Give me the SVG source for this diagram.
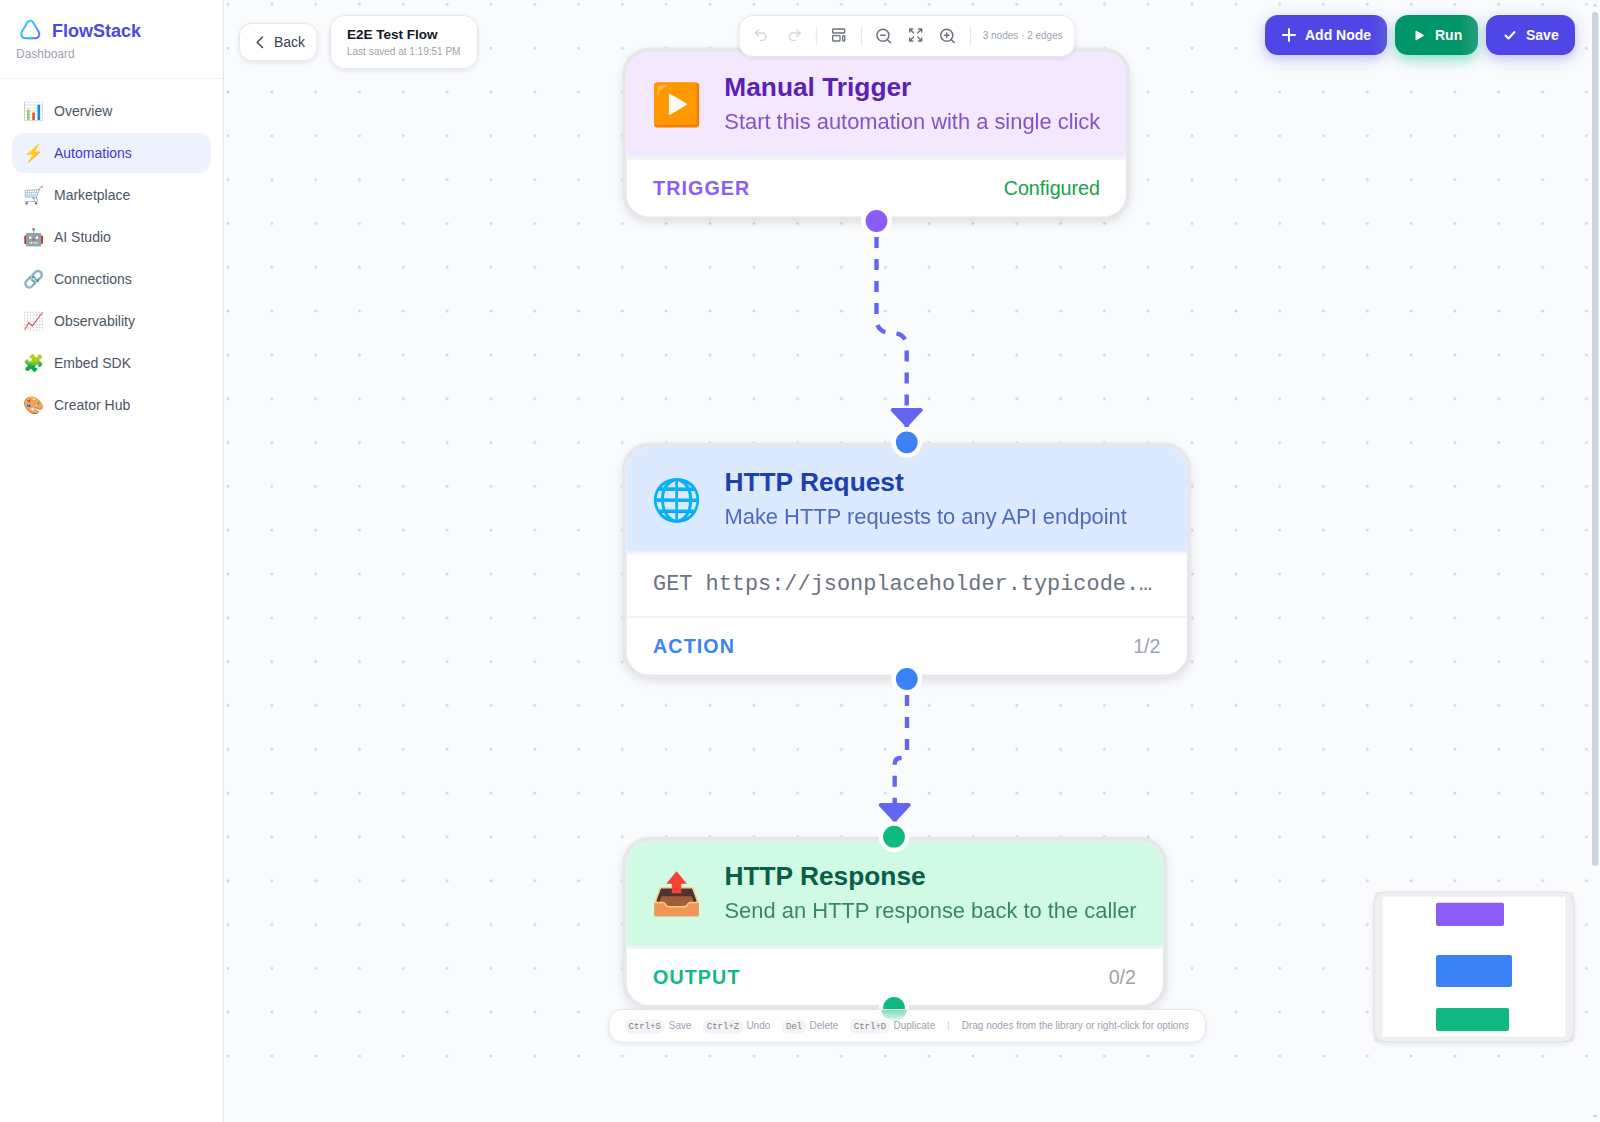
<svg xmlns="http://www.w3.org/2000/svg" width="1600" height="1122" viewBox="0 0 1600 1122">
<style>
text{font-family:"Liberation Sans",Arial,sans-serif}
.emoji{font-family:"Noto Color Emoji","Liberation Sans",sans-serif;text-anchor:middle}
.nav{font-size:14px;fill:#4b5563}
.navi{font-size:17px}
.nodei{font-size:41px}
.box{fill:#fff;stroke:#e5e7eb;stroke-width:4.38;filter:url(#nodeShadow)}
.ttl{font-size:26.3px;font-weight:700}
.sub{font-size:21.9px;opacity:.75}
.tag{font-size:19.7px;font-weight:700;letter-spacing:1.1px}
.cnt{font-size:19.7px;fill:#9ca3af;text-anchor:end}
.div{fill:#f3f4f6}
.hnd{stroke:#fff;stroke-width:4.38}
.edge{fill:none;stroke:#6366f1;stroke-width:4.38;stroke-dasharray:11 11;marker-end:url(#arrow)}
.chip{fill:#fff;stroke:#e5e7eb;stroke-width:1;filter:url(#chipShadow)}
.ico{fill:none;stroke:#6b7280;stroke-width:2;stroke-linecap:round;stroke-linejoin:round}
.ico.off{stroke:#d1d5db}
.sep{stroke:#e5e7eb;stroke-width:1}
.btn{font-size:14px;font-weight:700;fill:#fff}
.bi{fill:none;stroke:#fff;stroke-width:2;stroke-linecap:round;stroke-linejoin:round}
.hint{font-size:10px;fill:#9ca3af}
.kbd{fill:#f3f4f6}
.kt{font-family:"Liberation Mono",monospace;font-size:9px;fill:#7b8290;text-anchor:middle}
</style>
<defs>
<pattern id="dots" patternUnits="userSpaceOnUse" x="206.09" y="-17.61" width="43.82" height="43.82"><circle cx="21.91" cy="21.91" r="1.5" fill="#d3d6dc"/></pattern>
<marker id="arrow" markerUnits="userSpaceOnUse" markerWidth="40" markerHeight="44" refX="20" refY="22" orient="auto" overflow="visible"><path d="M3 8 L18 22 L3 36 Z" fill="#6366f1" stroke="#6366f1" stroke-width="4" stroke-linejoin="round"/></marker>
<filter id="nodeShadow" x="-10%" y="-15%" width="120%" height="135%"><feDropShadow dx="0" dy="3" stdDeviation="4" flood-color="#111827" flood-opacity=".09"/></filter>
<filter id="chipShadow" x="-15%" y="-30%" width="130%" height="170%"><feDropShadow dx="0" dy="1.5" stdDeviation="2" flood-color="#1f2a5a" flood-opacity=".1"/></filter>
<filter id="blueGlow" x="-30%" y="-60%" width="160%" height="240%"><feDropShadow dx="0" dy="4" stdDeviation="7" flood-color="#4f46e5" flood-opacity=".35"/></filter>
<filter id="greenGlow" x="-40%" y="-60%" width="180%" height="260%"><feDropShadow dx="0" dy="5" stdDeviation="7" flood-color="#10b981" flood-opacity=".45"/></filter>
<linearGradient id="gAdd"><stop offset=".88" stop-color="#4f46e5"/><stop offset="1" stop-color="#5c58db"/></linearGradient>
<linearGradient id="gRun"><stop offset=".8" stop-color="#059669"/><stop offset="1" stop-color="#2a9f7c"/></linearGradient>
<linearGradient id="gLogo" x1="0" y1="0" x2="1" y2="1"><stop offset="0" stop-color="#22d3ee"/><stop offset=".45" stop-color="#38bdf8"/><stop offset="1" stop-color="#6366f1"/></linearGradient>
<linearGradient id="gFade" gradientUnits="userSpaceOnUse" x1="0" y1="1010" x2="0" y2="1023"><stop offset="0" stop-color="#10b981" stop-opacity=".5"/><stop offset="1" stop-color="#10b981" stop-opacity="0"/></linearGradient>
<clipPath id="belowBar"><rect x="878" y="1010" width="32" height="14"/></clipPath>
</defs>

<rect id="canvas" x="224" width="1376" height="1122" fill="#fafbfd"/>
<rect x="224" width="1368" height="1060" fill="url(#dots)"/>

<g id="sidebar">
<rect width="223" height="1122" fill="#fff"/>
<rect x="223" width="1" height="1122" fill="#e5e7eb"/>
<rect y="78" width="223" height="1" fill="#eef0f2"/>
<path d="M30.3 20.7C32 20.7 33 21.7 34 23.7L38.5 31.5C40.5 35 38.5 38.3 35 38.3H25.5C22 38.3 20 35 22 31.5L26.5 23.7C27.5 21.7 28.5 20.7 30.3 20.7Z" fill="none" stroke="url(#gLogo)" stroke-width="2"/>
<circle cx="30.5" cy="38.3" r="1.4" fill="#22d3ee"/>
<text x="52" y="36.5" font-size="18" font-weight="700" fill="#4f46e5">FlowStack</text>
<text x="16" y="58" font-size="12" fill="#9ca3af">Dashboard</text>
<rect x="12" y="133" width="199" height="40" rx="12" fill="#eef2ff"/>
<text class="emoji navi" x="34.3" y="117">&#x1F4CA;</text><text class="nav" x="54" y="116">Overview</text>
<text class="emoji navi" x="34.3" y="159">&#x26A1;</text><text class="nav" x="54" y="158" style="fill:#4338ca">Automations</text>
<text class="emoji navi" x="34.3" y="201">&#x1F6D2;</text><text class="nav" x="54" y="200">Marketplace</text>
<text class="emoji navi" x="34.3" y="243">&#x1F916;</text><text class="nav" x="54" y="242">AI Studio</text>
<text class="emoji navi" x="34.3" y="285">&#x1F517;</text><text class="nav" x="54" y="284">Connections</text>
<text class="emoji navi" x="34.3" y="327">&#x1F4C8;</text><text class="nav" x="54" y="326">Observability</text>
<text class="emoji navi" x="34.3" y="369">&#x1F9E9;</text><text class="nav" x="54" y="368">Embed SDK</text>
<text class="emoji navi" x="34.3" y="411">&#x1F3A8;</text><text class="nav" x="54" y="410">Creator Hub</text>
</g>

<g id="connectors">
<path id="edge-1" class="edge" d="M876.5 215V318Q876.5 333 891.6 333Q906.7 333 906.7 348V427"/>
<path id="edge-2" class="edge" d="M907 673V752Q907 758 901 758Q894.7 758 894.7 764V822"/>
</g>

<g id="node-trigger">
<rect class="box" x="624.3" y="49.8" width="503.9" height="169" rx="25"/>
<path d="M626.5 156.7V75a23 23 0 0 1 23-23H1103a23 23 0 0 1 23 23V156.7Z" fill="#f3e8ff"/>
<rect class="div" x="626.5" y="156.7" width="499.5" height="3"/>
<text class="emoji nodei" x="677" y="119">&#x25B6;&#xFE0F;</text>
<text class="ttl" x="724.3" y="96" fill="#5b21b6">Manual Trigger</text>
<text class="sub" x="724.3" y="129.3" fill="#5b21b6">Start this automation with a single click</text>
<text class="tag" x="653" y="195" fill="#8b5cf6">TRIGGER</text>
<text class="cnt" x="1100" y="195" style="fill:#16a34a">Configured</text>
<circle class="hnd" cx="876.5" cy="221" r="13.1" fill="#8b5cf6"/>
</g>

<g id="node-http-request">
<rect class="box" x="624.3" y="444.8" width="565" height="232" rx="25"/>
<path d="M626.5 551.7V470a23 23 0 0 1 23-23H1164a23 23 0 0 1 23 23V551.7Z" fill="#dbeafe"/>
<rect class="div" x="626.5" y="551.7" width="560.5" height="3"/>
<rect class="div" x="626.5" y="615.7" width="560.5" height="2.4"/>
<text class="emoji nodei" x="677" y="514">&#x1F310;</text>
<text class="ttl" x="724.5" y="491" fill="#1e40af">HTTP Request</text>
<text class="sub" x="724.5" y="524" fill="#1e40af">Make HTTP requests to any API endpoint</text>
<text x="653" y="590" font-size="21.9" fill="#6b7280" style="font-family:'Liberation Mono',monospace">GET https://jsonplaceholder.typicode.…</text>
<text class="tag" x="653" y="653" fill="#3b82f6">ACTION</text>
<text class="cnt" x="1160.5" y="653">1/2</text>
<circle class="hnd" cx="906.8" cy="442.3" r="13.1" fill="#3b82f6"/>
<circle class="hnd" cx="906.8" cy="679" r="13.1" fill="#3b82f6"/>
</g>

<g id="node-http-response">
<rect class="box" x="624.3" y="839.3" width="541" height="168" rx="25"/>
<path d="M626.5 946V864.5a23 23 0 0 1 23-23H1140a23 23 0 0 1 23 23V946Z" fill="#d1fae5"/>
<rect class="div" x="626.5" y="946" width="536.5" height="3"/>
<text class="emoji nodei" x="677" y="908">&#x1F4E4;</text>
<text class="ttl" x="724.5" y="885" fill="#065f46">HTTP Response</text>
<text class="sub" x="724.5" y="918" fill="#065f46">Send an HTTP response back to the caller</text>
<text class="tag" x="653" y="984" fill="#10b981">OUTPUT</text>
<text class="cnt" x="1136" y="984">0/2</text>
<circle class="hnd" cx="894" cy="836.7" r="13.1" fill="#10b981"/>
<circle class="hnd" cx="894" cy="1008" r="13.1" fill="#10b981"/>
</g>

<g id="back-button">
<rect class="chip" x="239.5" y="23.5" width="77.5" height="37" rx="12"/>
<path d="M262.5 37l-5.3 5.3 5.3 5.3" fill="none" stroke="#374151" stroke-width="1.4" stroke-linecap="round" stroke-linejoin="round"/>
<text x="274" y="47" font-size="14" fill="#374151">Back</text>
</g>
<g id="title-card">
<rect class="chip" x="330.5" y="15.5" width="147" height="53" rx="14"/>
<text x="347" y="39" font-size="13.5" font-weight="700" fill="#111827">E2E Test Flow</text>
<text x="347" y="55" font-size="10" fill="#9ca3af">Last saved at 1:19:51 PM</text>
</g>
<g id="toolbar">
<rect class="chip" x="739" y="15.5" width="336" height="41" rx="14"/>
<g class="ico off" transform="translate(752.7 27) scale(.667)"><path d="M9 14 4 9l5-5"/><path d="M4 9h10.5a5.5 5.5 0 0 1 5.5 5.5 5.5 5.5 0 0 1-5.5 5.5H11"/></g>
<g class="ico off" transform="translate(786.7 27) scale(.667)"><path d="m15 14 5-5-5-5"/><path d="M20 9H9.5A5.5 5.5 0 0 0 4 14.5 5.5 5.5 0 0 0 9.5 20H13"/></g>
<line class="sep" x1="816.3" y1="26" x2="816.3" y2="46"/>
<g class="ico" transform="translate(830.7 27) scale(.667)"><rect x="3" y="3" width="18" height="6" rx="1"/><rect x="3" y="13" width="11" height="8" rx="1"/><rect x="18" y="13" width="3" height="8" rx="1"/></g>
<line class="sep" x1="861.5" y1="26" x2="861.5" y2="46"/>
<g class="ico" transform="translate(874.7 27) scale(.75)"><circle cx="11" cy="11" r="8"/><path d="m21 21-4.3-4.3"/><path d="M8 11h6"/></g>
<g class="ico" transform="translate(907.7 27) scale(.667)"><path d="m21 21-6-6m6 6v-4.8m0 4.8h-4.8"/><path d="M3 16.2V21m0 0h4.8M3 21l6-6"/><path d="M21 7.8V3m0 0h-4.8M21 3l-6 6"/><path d="M3 7.8V3m0 0h4.8M3 3l6 6"/></g>
<g class="ico" transform="translate(938.5 27) scale(.75)"><circle cx="11" cy="11" r="8"/><path d="m21 21-4.3-4.3"/><path d="M11 8v6M8 11h6"/></g>
<line class="sep" x1="970.5" y1="26" x2="970.5" y2="46"/>
<text x="982.7" y="39" font-size="10" fill="#9ca3af">3 nodes · 2 edges</text>
</g>

<g id="btn-add-node">
<rect x="1265" y="15" width="122" height="40" rx="13" fill="url(#gAdd)" filter="url(#blueGlow)"/>
<path class="bi" d="M1283 35h12M1289 29v12"/>
<text class="btn" x="1305" y="40">Add Node</text>
</g>
<g id="btn-run">
<rect x="1395" y="15" width="83" height="40" rx="13" fill="url(#gRun)" filter="url(#greenGlow)"/>
<path d="M1416 31l7.5 4.5-7.5 4.5Z" fill="#fff" stroke="#fff" stroke-width="1" stroke-linejoin="round"/>
<text class="btn" x="1435" y="40">Run</text>
</g>
<g id="btn-save">
<rect x="1486" y="15" width="89" height="40" rx="13" fill="#4f46e5" filter="url(#blueGlow)"/>
<path class="bi" d="M1505.5 35.5l3 3 6-6.5" stroke-width="1.4"/>
<text class="btn" x="1526" y="40">Save</text>
</g>

<g id="hint-bar">
<rect class="chip" x="609" y="1009.5" width="596.5" height="32.5" rx="13" style="fill-opacity:.94"/>
<circle cx="894" cy="1008" r="13" fill="url(#gFade)" clip-path="url(#belowBar)"/>
<rect class="kbd" x="625" y="1019.5" width="39.5" height="14" rx="6"/><text class="kt" x="644.7" y="1029">Ctrl+S</text><text class="hint" x="668.8" y="1029">Save</text>
<rect class="kbd" x="703" y="1019.5" width="40" height="14" rx="6"/><text class="kt" x="723" y="1029">Ctrl+Z</text><text class="hint" x="746.4" y="1029">Undo</text>
<rect class="kbd" x="782" y="1019.5" width="24" height="14" rx="6"/><text class="kt" x="794" y="1029">Del</text><text class="hint" x="809.5" y="1029">Delete</text>
<rect class="kbd" x="850" y="1019.5" width="40" height="14" rx="6"/><text class="kt" x="870" y="1029">Ctrl+D</text><text class="hint" x="893.5" y="1029">Duplicate</text>
<text class="hint" x="947" y="1029" style="fill:#d1d5db">|</text>
<text class="hint" x="961.7" y="1029">Drag nodes from the library or right-click for options</text>
</g>

<g id="minimap">
<rect x="1374" y="892" width="200" height="150" fill="#f0f0f0"/>
<rect x="1374" y="892" width="200" height="150" rx="12" fill="#f0f0f0" stroke="#dfe1e8" stroke-width="1" filter="url(#chipShadow)"/>
<rect x="1382.7" y="896.7" width="182.3" height="140" fill="#fff"/>
<rect x="1436" y="902.7" width="68" height="23.3" rx="2" fill="#8b5cf6"/>
<rect x="1436" y="955" width="76" height="32" rx="2" fill="#3b82f6"/>
<rect x="1436" y="1008" width="73" height="23" rx="2" fill="#10b981"/>
</g>

<g id="scrollbar">
<rect x="1592" y="12" width="6.3" height="854" rx="3" fill="#cbd5e1"/>
<path d="M1592.5 6.5h5l-2.5-3ZM1592.5 1115h5l-2.5 3Z" fill="#cbd5e1"/>
</g>
</svg>
